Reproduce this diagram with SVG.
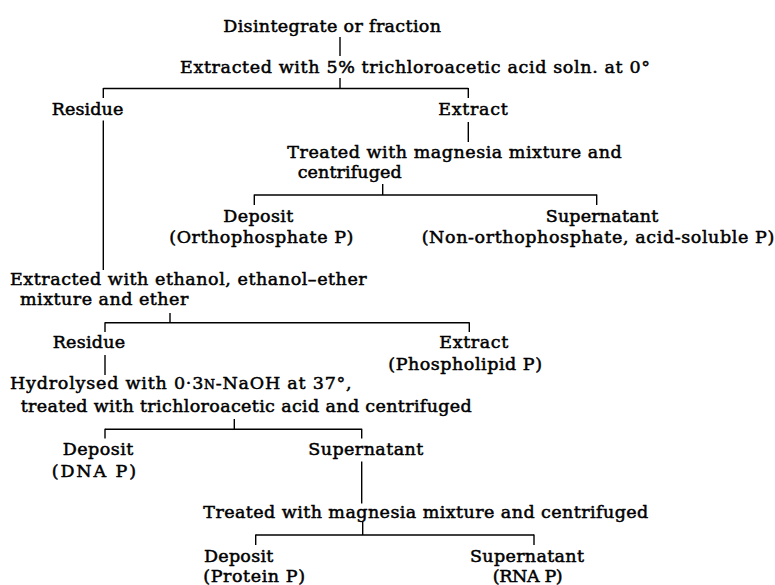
<svg xmlns="http://www.w3.org/2000/svg" width="775" height="585" viewBox="0 0 775 585">
<style>
text{font-family:"DejaVu Serif","Liberation Serif",serif;font-size:17.5px;fill:#000;stroke:#000;stroke-width:0.5px}
.c line{stroke:#000;stroke-width:1.4}
</style>
<rect width="775" height="585" fill="#fff"/>
<g class="c" id="connectors">
<line x1="340" y1="37" x2="340" y2="56"/>
<line x1="340" y1="78" x2="340" y2="88.5"/>
<line x1="103.3" y1="88.5" x2="468.3" y2="88.5"/>
<line x1="103.3" y1="88" x2="103.3" y2="98"/>
<line x1="468.3" y1="88" x2="468.3" y2="98"/>
<line x1="468.3" y1="122" x2="468.3" y2="142"/>
<line x1="103.3" y1="120.5" x2="103.3" y2="270"/>
<line x1="382.7" y1="184" x2="382.7" y2="195"/>
<line x1="254.3" y1="195" x2="596.7" y2="195"/>
<line x1="254.3" y1="194.5" x2="254.3" y2="205"/>
<line x1="596.7" y1="194.5" x2="596.7" y2="205"/>
<line x1="170" y1="313" x2="170" y2="322.7"/>
<line x1="105" y1="322.7" x2="469.3" y2="322.7"/>
<line x1="105" y1="322.2" x2="105" y2="332"/>
<line x1="469.3" y1="322.2" x2="469.3" y2="332"/>
<line x1="105" y1="355" x2="105" y2="375"/>
<line x1="234.3" y1="419" x2="234.3" y2="429.3"/>
<line x1="105" y1="429.3" x2="361.7" y2="429.3"/>
<line x1="105" y1="428.8" x2="105" y2="438.5"/>
<line x1="361.7" y1="428.8" x2="361.7" y2="438.5"/>
<line x1="361.7" y1="461.5" x2="361.7" y2="503.5"/>
<line x1="362.7" y1="521.5" x2="362.7" y2="535"/>
<line x1="255.7" y1="535" x2="534" y2="535"/>
<line x1="255.7" y1="534.5" x2="255.7" y2="545"/>
<line x1="534" y1="534.5" x2="534" y2="545"/>
</g>
<g id="start"><text x="223.3" y="31.7" textLength="217.7">Disintegrate or fraction</text></g>
<g id="tca"><text x="180" y="72.7" textLength="470">Extracted with 5% trichloroacetic acid soln. at 0°</text></g>
<g id="residue1"><text x="51.7" y="115" textLength="71.6">Residue</text></g>
<g id="extract1"><text x="438.3" y="115" textLength="69.4">Extract</text></g>
<g id="magnesia1"><text x="287.3" y="158.3" textLength="334.4">Treated with magnesia mixture and</text><text x="297.7" y="178.3" textLength="104">centrifuged</text></g>
<g id="deposit1"><text x="223.3" y="221.7" textLength="70">Deposit</text><text x="169.3" y="243.3" textLength="184">(Orthophosphate P)</text></g>
<g id="supernatant1"><text x="545.7" y="221.7" textLength="112.6">Supernatant</text><text x="421.7" y="243.3" textLength="352.6">(Non-orthophosphate, acid-soluble P)</text></g>
<g id="ethanol"><text x="10" y="285" textLength="356.7">Extracted with ethanol, ethanol–ether</text><text x="20" y="305" textLength="168.3">mixture and ether</text></g>
<g id="residue2"><text x="52.7" y="348.3" textLength="72.3">Residue</text></g>
<g id="extract2"><text x="439.3" y="348.3" textLength="69">Extract</text><text x="388.3" y="370" textLength="153.7">(Phospholipid P)</text></g>
<g id="hydrolysed"><text x="10" y="388.5" textLength="341.7">Hydrolysed with 0·3<tspan font-size="12.5">N</tspan>-NaOH at 37°,</text><text x="20.7" y="411.7" textLength="451">treated with trichloroacetic acid and centrifuged</text></g>
<g id="deposit2"><text x="62.7" y="455" textLength="70.6">Deposit</text><text x="51.7" y="476.7" textLength="84.3">(DNA P)</text></g>
<g id="supernatant2"><text x="308.3" y="455" textLength="115">Supernatant</text></g>
<g id="magnesia2"><text x="203.3" y="518.3" textLength="445">Treated with magnesia mixture and centrifuged</text></g>
<g id="deposit3"><text x="204" y="561.7" textLength="69.3">Deposit</text><text x="203.3" y="582" textLength="101.7">(Protein P)</text></g>
<g id="supernatant3"><text x="470" y="561.7" textLength="114">Supernatant</text><text x="492.7" y="582" textLength="70">(RNA P)</text></g>
</svg>
